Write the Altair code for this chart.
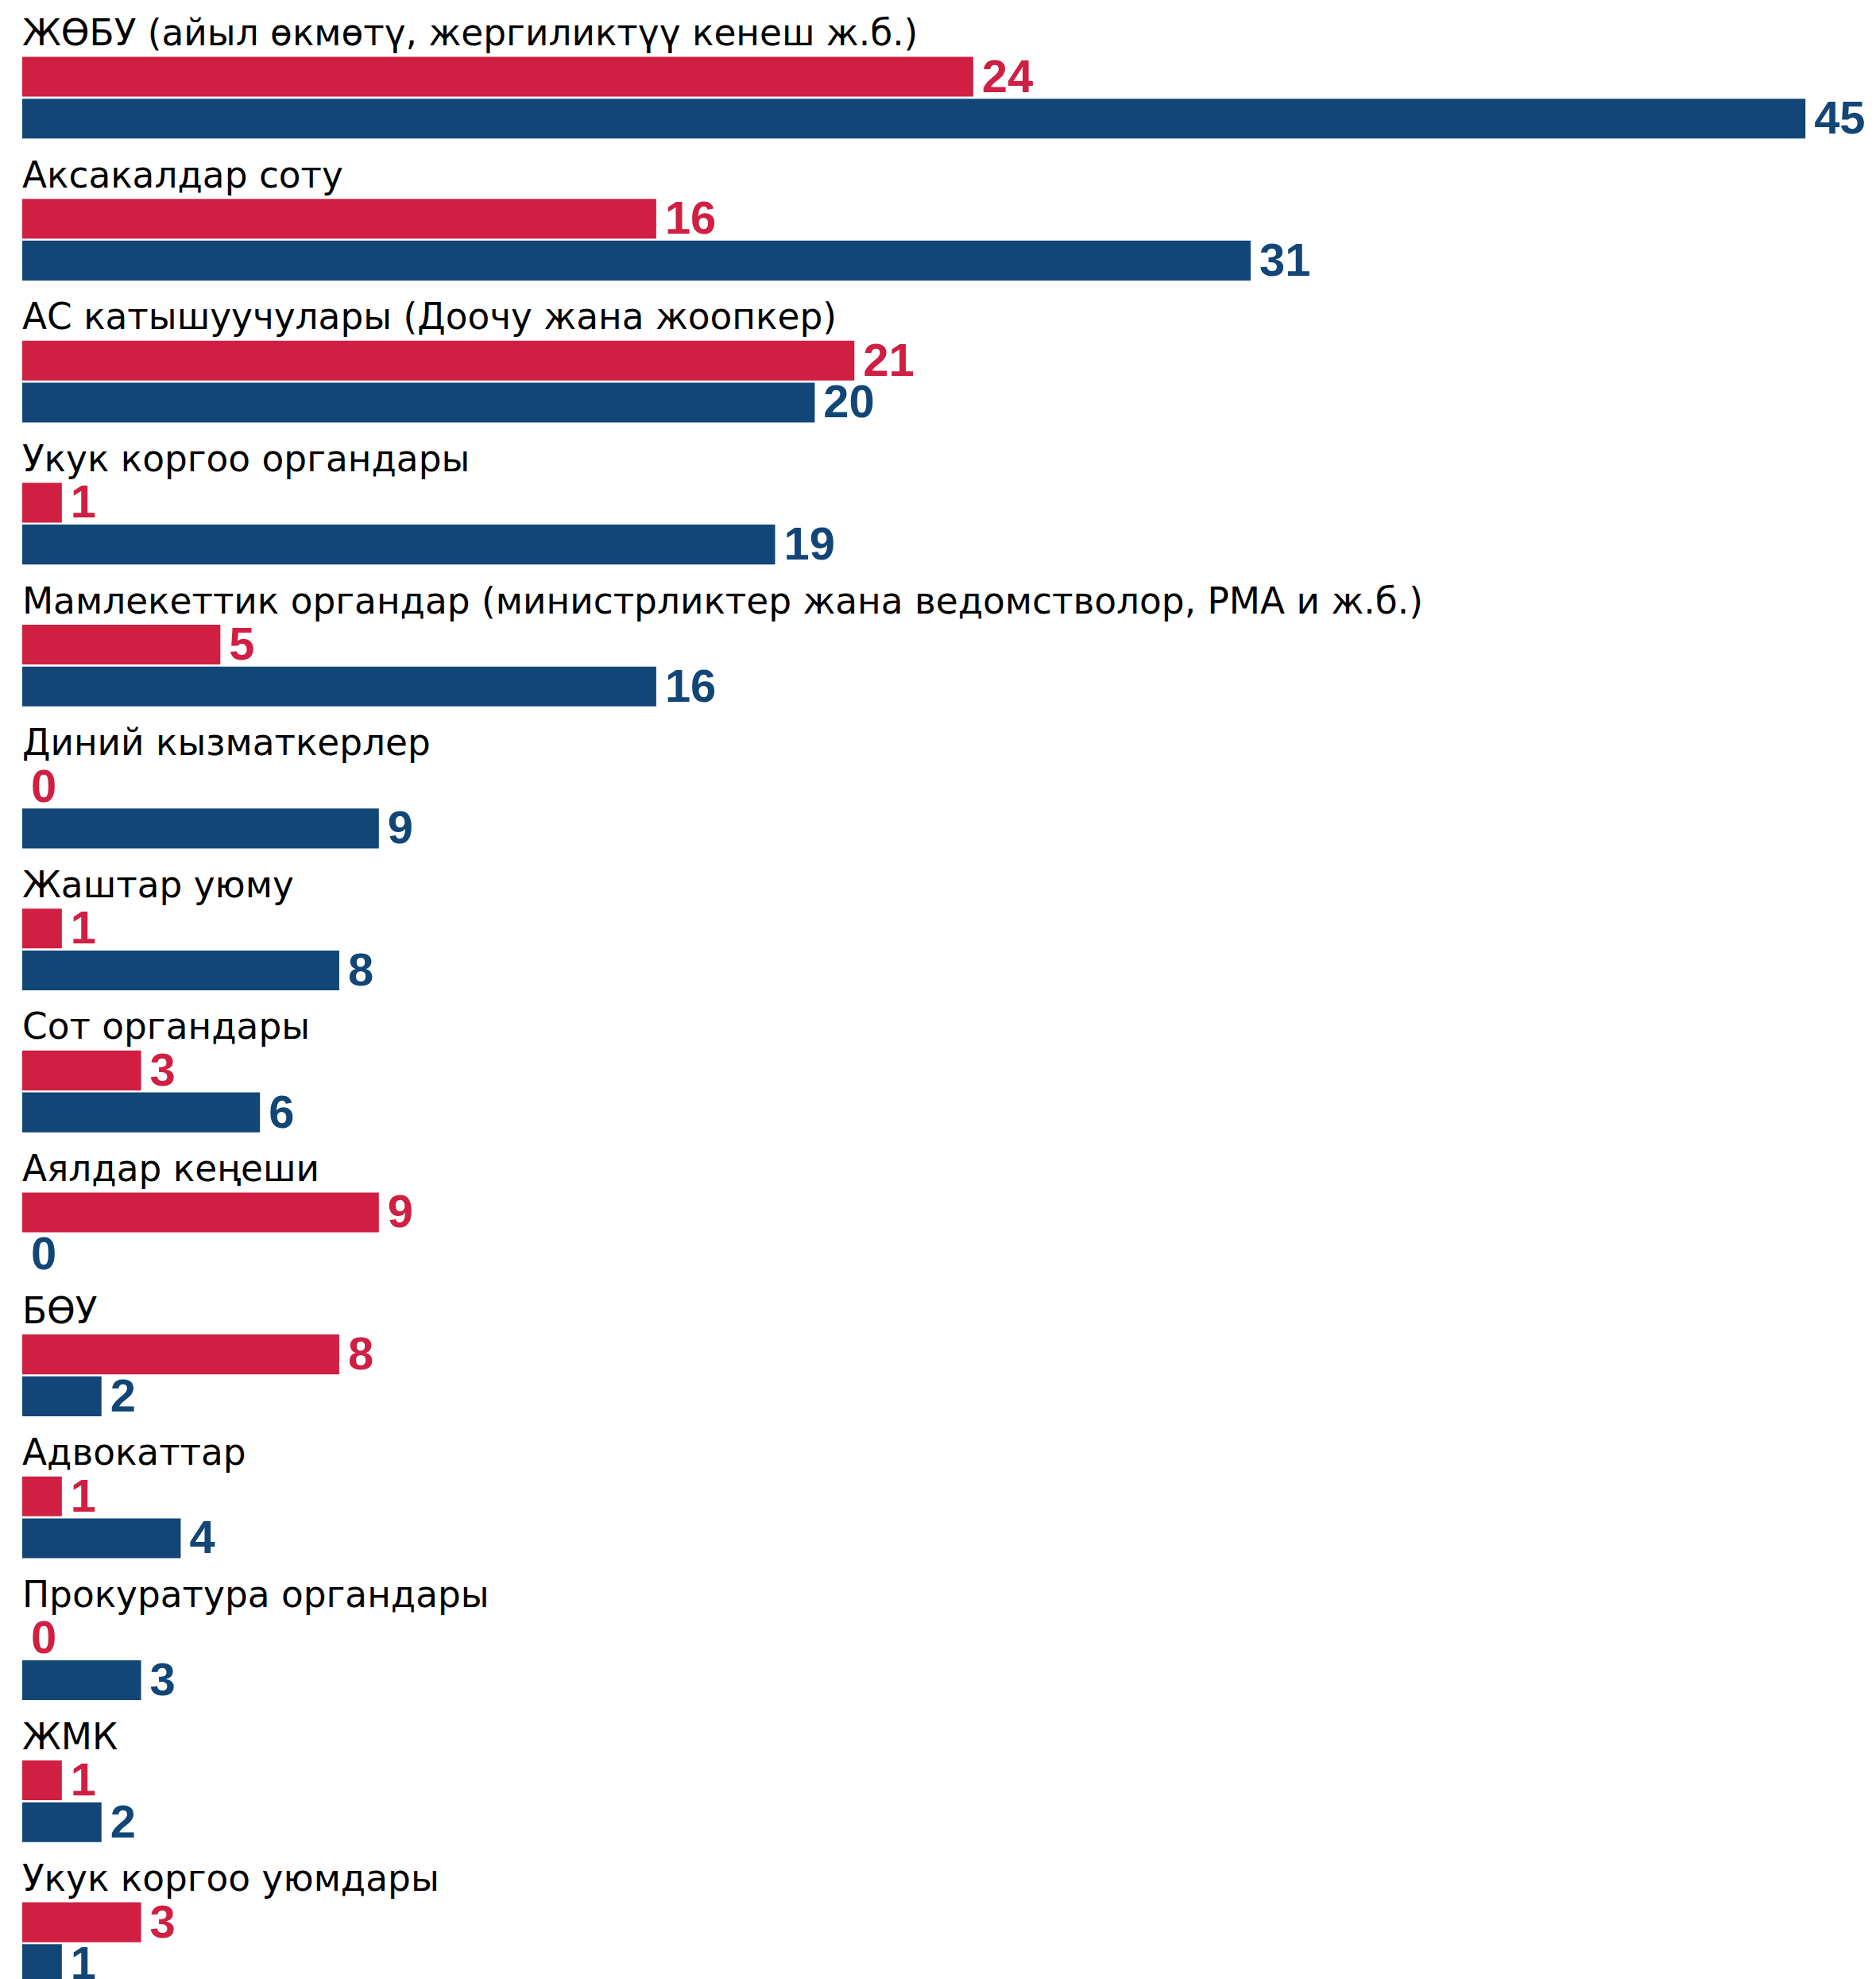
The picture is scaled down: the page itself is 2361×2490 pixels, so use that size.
import altair as alt
import pandas as pd

categories = [
    "ЖӨБУ (айыл өкмөтү, жергиликтүү кенеш ж.б.)",
    "Аксакалдар соту",
    "АС катышуучулары (Доочу жана жоопкер)",
    "Укук коргоо органдары",
    "Мамлекеттик органдар (министрликтер жана ведомстволор, РМА и ж.б.)",
    "Диний кызматкерлер",
    "Жаштар уюму",
    "Сот органдары",
    "Аялдар кеңеши",
    "БӨУ",
    "Адвокаттар",
    "Прокуратура органдары",
    "ЖМК",
    "Укук коргоо уюмдары",
]
series_names = ["Серия 1", "Серия 2"]
series1 = [24, 16, 21, 1, 5, 0, 1, 3, 9, 8, 1, 0, 1, 3]
series2 = [45, 31, 20, 19, 16, 9, 8, 6, 0, 2, 4, 3, 2, 1]
colors = ["#D01F42", "#114677"]

rows = []
for c, a, b in zip(categories, series1, series2):
    rows.append({"category": c, "series": series_names[0], "value": a})
    rows.append({"category": c, "series": series_names[1], "value": b})
df = pd.DataFrame(rows)

x = alt.X("value:Q", scale=alt.Scale(domain=[0, 45], nice=False, zero=True), axis=None)
y = alt.Y("series:N", sort=series_names, axis=None,
          scale=alt.Scale(paddingInner=0.05, paddingOuter=0))
color = alt.Color("series:N", scale=alt.Scale(domain=series_names, range=colors), legend=None)

bars = alt.Chart().mark_bar().encode(x=x, y=y, color=color)
labels = alt.Chart().mark_text(
    align="left", baseline="middle", dx=11, dy=2, font="Liberation Sans Narrow, Liberation Sans",
    fontWeight="bold", fontSize=58
).encode(x=x, y=y, color=color, text="value:Q")

chart = alt.layer(bars, labels, data=df).properties(
    width=2249, height=103
).facet(
    row=alt.Row("category:N", sort=categories, title=None,
                header=alt.Header(labelOrient="top", labelAnchor="start", labelAngle=0,
                                  labelAlign="left", labelFont="DejaVu Sans", labelFontSize=45.5,
                                  labelColor="#000000", labelPadding=-33,
                                  labelBaseline="alphabetic"))
).properties(
    spacing=19, padding={"left": 20, "top": 10, "right": 5, "bottom": 5}
).configure_view(stroke=None).configure_facet(spacing=19)

chart.save("out.html", embed_options={"renderer": "svg", "actions": False})
